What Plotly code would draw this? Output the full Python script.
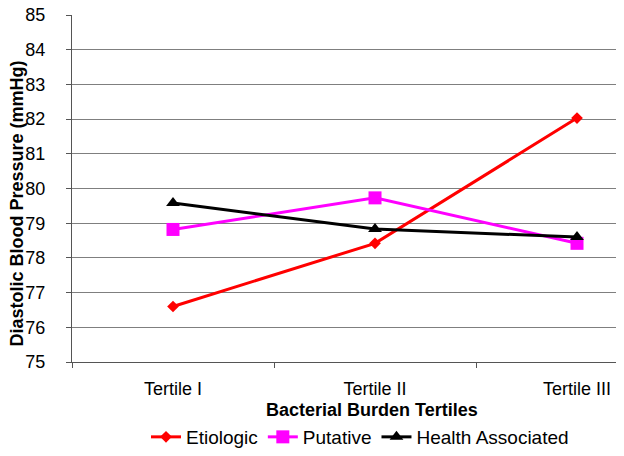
import plotly.graph_objects as go

categories = ["Tertile I", "Tertile II", "Tertile III"]
etiologic = [76.6, 78.42, 82.03]
putative = [78.82, 79.73, 78.42]
health_associated = [79.58, 78.83, 78.6]
y_ticks = list(range(75, 86))

FONT = "Arial, Liberation Sans, sans-serif"

fig = go.Figure()
fig.add_trace(go.Scatter(x=categories, y=etiologic, name="Etiologic", mode="lines+markers",
                         line=dict(color="#FF0000", width=3),
                         marker=dict(symbol="diamond", size=9, color="#FF0000")))
fig.add_trace(go.Scatter(x=categories, y=putative, name="Putative", mode="lines+markers",
                         line=dict(color="#FF00FF", width=3),
                         marker=dict(symbol="square", size=13, color="#FF00FF")))
fig.add_trace(go.Scatter(x=categories, y=health_associated, name="Health Associated", mode="lines+markers",
                         line=dict(color="#000000", width=3),
                         marker=dict(symbol="triangle-up", size=12, color="#000000")))

fig.update_layout(
    width=624, height=456,
    margin=dict(l=72, r=8, t=15, b=94, autoexpand=False),
    paper_bgcolor="white", plot_bgcolor="white",
    font=dict(family=FONT, size=18, color="black"),
    showlegend=True,
    legend=dict(orientation="h", x=360 / 624, xref="container", xanchor="center",
                y=(456 - 437) / 456, yref="container", yanchor="middle",
                font=dict(size=19), itemwidth=30, tracegroupgap=0),
)
fig.update_xaxes(
    type="category", range=[-0.5, 2.193], automargin=False,
    showline=True, linecolor="#555555", linewidth=1,
    ticks="outside", tickson="boundaries", ticklen=5, tickcolor="#555555",
    showgrid=False, tickfont=dict(size=18), ticklabelstandoff=10,
)
fig.update_yaxes(
    range=[75, 85], tickvals=y_ticks, automargin=False,
    showline=True, linecolor="#555555", linewidth=1,
    ticks="outside", ticklen=5, tickcolor="#555555",
    showgrid=True, gridcolor="#7f7f7f", gridwidth=1,
    tickfont=dict(size=18), ticklabelstandoff=17, zeroline=False,
)
fig.add_annotation(text="<b>Bacterial Burden Tertiles</b>", xref="paper", yref="paper",
                   x=(372 - 72) / 544, y=(362 - 410) / 347, xanchor="center", yanchor="middle",
                   showarrow=False, font=dict(size=18, family=FONT))
fig.add_annotation(text="<b>Diastolic Blood Pressure (mmHg)</b>", xref="paper", yref="paper",
                   x=(16.5 - 72) / 544, y=(362 - 204) / 347, xanchor="center", yanchor="middle",
                   textangle=-90, showarrow=False, font=dict(size=18, family=FONT))

fig.write_html("out.html", config={"displayModeBar": False},
               post_script="document.body.style.margin='0';")
